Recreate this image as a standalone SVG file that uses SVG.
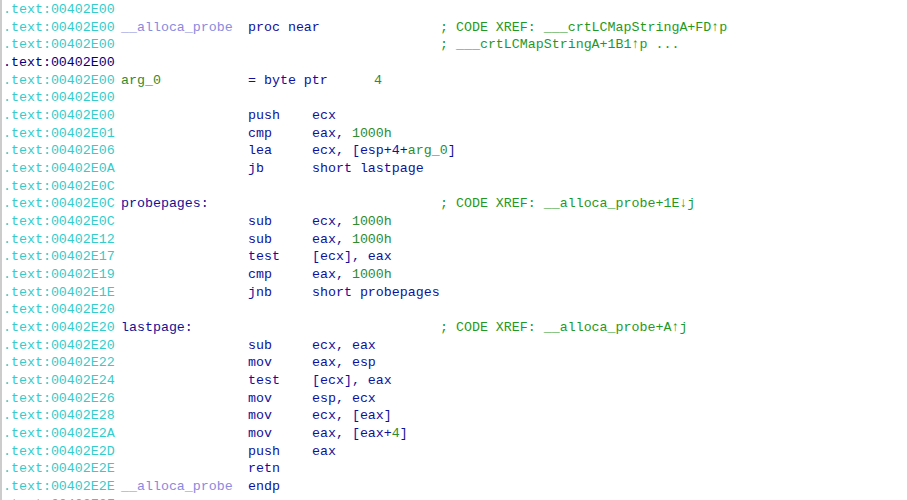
<svg xmlns="http://www.w3.org/2000/svg" width="907" height="500" viewBox="0 0 907 500">
<style>
text{font-family:"Liberation Mono","DejaVu Sans Mono",monospace;font-size:13.3px;fill:#10109a}
.a{fill:#33cccc}.d{fill:#000080}.p{fill:#8a8ae0}.g{fill:#2e8b2e}.c{fill:#1f9a1f}
</style>
<rect width="907" height="500" fill="#fff"/>
<line x1="1" y1="0" x2="1" y2="500" stroke="#999" stroke-width="1"/>
<g id="listing">
<text y="13"><tspan x="3" class="a">.text:00402E00</tspan></text>
<text y="30.7"><tspan x="3" class="a">.text:00402E00</tspan><tspan x="121" class="p">__alloca_probe</tspan><tspan x="248">proc near</tspan><tspan x="440" class="c">; CODE XREF: ___crtLCMapStringA+FD↑p</tspan></text>
<text y="48.3"><tspan x="3" class="a">.text:00402E00</tspan><tspan x="440" class="c">; ___crtLCMapStringA+1B1↑p ...</tspan></text>
<text y="66"><tspan x="3" class="d">.text:00402E00</tspan></text>
<text y="83.7"><tspan x="3" class="a">.text:00402E00</tspan><tspan x="121" class="g">arg_0</tspan><tspan x="248">= byte ptr</tspan><tspan x="374" class="g">4</tspan></text>
<text y="101.4"><tspan x="3" class="a">.text:00402E00</tspan></text>
<text y="119"><tspan x="3" class="a">.text:00402E00</tspan><tspan x="248">push</tspan><tspan x="312">ecx</tspan></text>
<text y="136.7"><tspan x="3" class="a">.text:00402E01</tspan><tspan x="248">cmp</tspan><tspan x="312">eax, </tspan><tspan class="g">1000h</tspan></text>
<text y="154.4"><tspan x="3" class="a">.text:00402E06</tspan><tspan x="248">lea</tspan><tspan x="312">ecx, [esp+4+</tspan><tspan class="g">arg_0</tspan><tspan>]</tspan></text>
<text y="172"><tspan x="3" class="a">.text:00402E0A</tspan><tspan x="248">jb</tspan><tspan x="312">short lastpage</tspan></text>
<text y="189.7"><tspan x="3" class="a">.text:00402E0C</tspan></text>
<text y="207.4"><tspan x="3" class="a">.text:00402E0C</tspan><tspan x="121">probepages:</tspan><tspan x="440" class="c">; CODE XREF: __alloca_probe+1E↓j</tspan></text>
<text y="225"><tspan x="3" class="a">.text:00402E0C</tspan><tspan x="248">sub</tspan><tspan x="312">ecx, </tspan><tspan class="g">1000h</tspan></text>
<text y="242.7"><tspan x="3" class="a">.text:00402E12</tspan><tspan x="248">sub</tspan><tspan x="312">eax, </tspan><tspan class="g">1000h</tspan></text>
<text y="260.4"><tspan x="3" class="a">.text:00402E17</tspan><tspan x="248">test</tspan><tspan x="312">[ecx], eax</tspan></text>
<text y="278"><tspan x="3" class="a">.text:00402E19</tspan><tspan x="248">cmp</tspan><tspan x="312">eax, </tspan><tspan class="g">1000h</tspan></text>
<text y="295.7"><tspan x="3" class="a">.text:00402E1E</tspan><tspan x="248">jnb</tspan><tspan x="312">short probepages</tspan></text>
<text y="313.4"><tspan x="3" class="a">.text:00402E20</tspan></text>
<text y="331"><tspan x="3" class="a">.text:00402E20</tspan><tspan x="121">lastpage:</tspan><tspan x="440" class="c">; CODE XREF: __alloca_probe+A↑j</tspan></text>
<text y="348.7"><tspan x="3" class="a">.text:00402E20</tspan><tspan x="248">sub</tspan><tspan x="312">ecx, eax</tspan></text>
<text y="366.4"><tspan x="3" class="a">.text:00402E22</tspan><tspan x="248">mov</tspan><tspan x="312">eax, esp</tspan></text>
<text y="384"><tspan x="3" class="a">.text:00402E24</tspan><tspan x="248">test</tspan><tspan x="312">[ecx], eax</tspan></text>
<text y="401.7"><tspan x="3" class="a">.text:00402E26</tspan><tspan x="248">mov</tspan><tspan x="312">esp, ecx</tspan></text>
<text y="419.4"><tspan x="3" class="a">.text:00402E28</tspan><tspan x="248">mov</tspan><tspan x="312">ecx, [eax]</tspan></text>
<text y="437"><tspan x="3" class="a">.text:00402E2A</tspan><tspan x="248">mov</tspan><tspan x="312">eax, [eax+</tspan><tspan class="g">4</tspan><tspan>]</tspan></text>
<text y="454.7"><tspan x="3" class="a">.text:00402E2D</tspan><tspan x="248">push</tspan><tspan x="312">eax</tspan></text>
<text y="472.4"><tspan x="3" class="a">.text:00402E2E</tspan><tspan x="248">retn</tspan></text>
<text y="490"><tspan x="3" class="a">.text:00402E2E</tspan><tspan x="121" class="p">__alloca_probe</tspan><tspan x="248">endp</tspan></text>
<text y="507.8"><tspan x="3" class="a">.text:00402E2F</tspan></text>
</g>
</svg>
